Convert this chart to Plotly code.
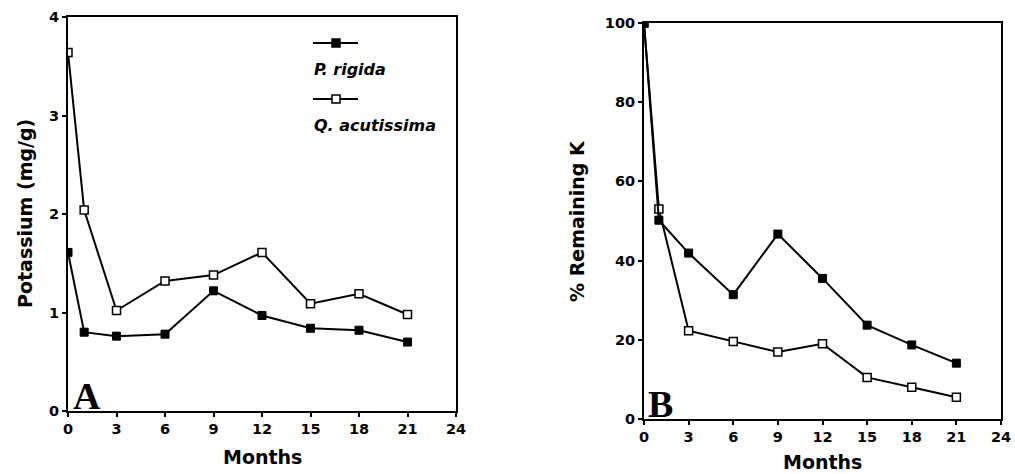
import plotly.graph_objects as go

months = [0, 1, 3, 6, 9, 12, 15, 18, 21]
k_rigida = [1.61, 0.80, 0.76, 0.78, 1.22, 0.97, 0.84, 0.82, 0.70]
k_acutissima = [3.64, 2.04, 1.02, 1.32, 1.38, 1.61, 1.09, 1.19, 0.98]
rem_rigida = [100, 50.2, 41.9, 31.4, 46.7, 35.5, 23.7, 18.7, 14.1]
rem_acutissima = [100, 53.0, 22.3, 19.6, 16.9, 19.0, 10.5, 8.0, 5.5]
xticks = [0, 3, 6, 9, 12, 15, 18, 21, 24]
yticks_a = [0, 1, 2, 3, 4]
yticks_b = [0, 20, 40, 60, 80, 100]
names = ["P. rigida", "Q. acutissima"]

W, H = 1015, 474
SANS = "DejaVu Sans"

def px(x):
    return x / W

def py(y):
    return 1 - y / H

def bold(vals):
    return ["<b>%d</b>" % v for v in vals]

fig = go.Figure()

filled = dict(symbol="square", size=8, color="black", line=dict(color="black", width=1))
hollow = dict(symbol="square", size=8, color="white", line=dict(color="black", width=1.5))
ln = dict(color="black", width=2)

fig.add_trace(go.Scatter(x=months, y=k_acutissima, mode="lines+markers", line=ln, marker=hollow,
                         name=names[1], xaxis="x", yaxis="y", showlegend=False))
fig.add_trace(go.Scatter(x=months, y=k_rigida, mode="lines+markers", line=ln, marker=filled,
                         name=names[0], xaxis="x", yaxis="y", showlegend=False))
fig.add_trace(go.Scatter(x=months, y=rem_acutissima, mode="lines+markers", line=ln, marker=hollow,
                         name=names[1], xaxis="x2", yaxis="y2", showlegend=False))
fig.add_trace(go.Scatter(x=months, y=rem_rigida, mode="lines+markers", line=ln, marker=filled,
                         name=names[0], xaxis="x2", yaxis="y2", showlegend=False))

tickfont = dict(family=SANS, size=14.5, color="black")
common = dict(showgrid=False, zeroline=False, showline=True, linecolor="black", linewidth=2,
              mirror=True, ticks="outside", ticklen=4, tickwidth=2, tickcolor="black",
              tickfont=tickfont, automargin=False)

fig.update_layout(
    width=W, height=H,
    margin=dict(l=0, r=0, t=0, b=0, autoexpand=False),
    paper_bgcolor="white", plot_bgcolor="white",
    xaxis=dict(domain=[px(68), px(456)], range=[0, 24], tickvals=xticks, ticktext=bold(xticks),
               anchor="y", **common),
    yaxis=dict(domain=[py(411), py(17)], range=[0, 4], tickvals=yticks_a, ticktext=bold(yticks_a),
               anchor="x", **common),
    xaxis2=dict(domain=[px(644), px(1001)], range=[0, 24], tickvals=xticks, ticktext=bold(xticks),
                anchor="y2", **common),
    yaxis2=dict(domain=[py(419), py(23)], range=[0, 100], tickvals=yticks_b, ticktext=bold(yticks_b),
                anchor="x2", **common),
)

titlefont = dict(family=SANS, size=19, color="black")

def note(text, x, y, font, xanchor="center", angle=0):
    return dict(text=text, x=px(x), y=py(y), xref="paper", yref="paper", showarrow=False,
                xanchor=xanchor, yanchor="middle", textangle=angle, font=font)

serif = dict(family="Liberation Serif", size=38, color="black")
legfont = dict(family=SANS, size=16, color="black")
ann = [
    note("<b>Months</b>", 262, 457, titlefont),
    note("<b>Months</b>", 822, 462, titlefont),
    note("<b>Potassium (mg/g)</b>", 25, 214, titlefont, angle=-90),
    note("<b>% Remaining K</b>", 577, 221, titlefont, angle=-90),
    note("<b>A</b>", 87, 396, serif),
    note("<b>B</b>", 660, 404, serif),
    note("<b><i>" + names[0] + "</i></b>", 312, 70, legfont, xanchor="left"),
    note("<b><i>" + names[1] + "</i></b>", 312, 126, legfont, xanchor="left"),
]
fig.update_layout(annotations=ann)

shapes = []
for yy, fill in [(43, "black"), (99, "white")]:
    shapes.append(dict(type="line", xref="paper", yref="paper", x0=px(313), x1=px(358), y0=py(yy), y1=py(yy),
                       line=dict(color="black", width=2)))
    shapes.append(dict(type="rect", xref="paper", yref="paper", x0=px(332), x1=px(340), y0=py(yy + 4), y1=py(yy - 4),
                       fillcolor=fill, line=dict(color="black", width=1.5)))
fig.update_layout(shapes=shapes)

fig.write_html("out.html", config={"displayModeBar": False},
               post_script="document.body.style.margin='0';")
